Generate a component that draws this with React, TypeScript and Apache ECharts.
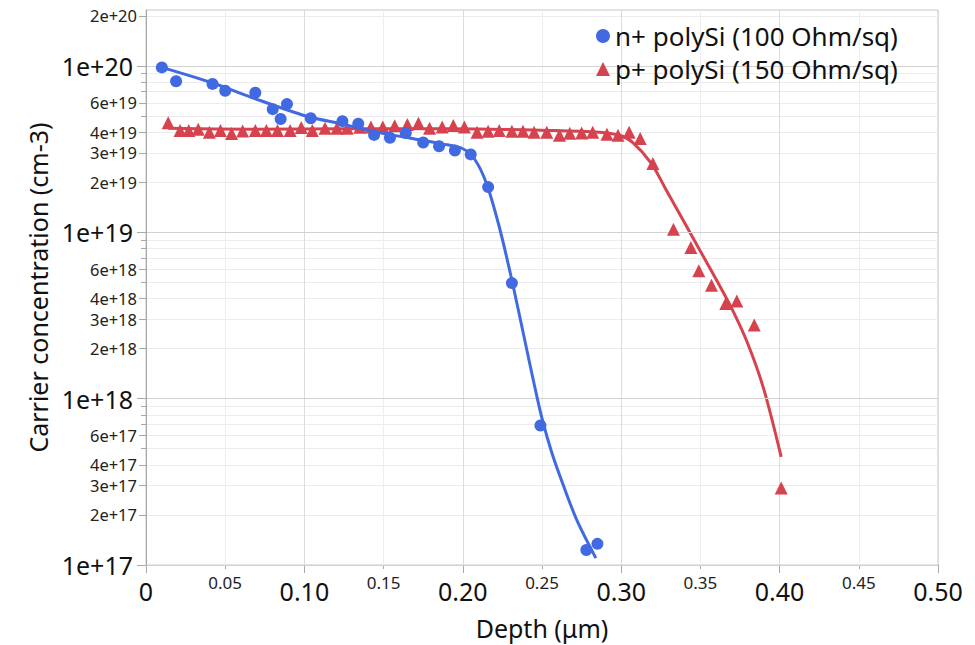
import React, { useEffect, useRef } from "react";
import * as echarts from "echarts";

// ---- data (depth in µm, concentration in cm-3) ----
const BLUE_NAME = "n+ polySi (100 Ohm/sq)";
const RED_NAME = "p+ polySi (150 Ohm/sq)";

const BLUE_X = [0.010, 0.019, 0.042, 0.050, 0.069, 0.080, 0.085, 0.089, 0.104, 0.124, 0.134, 0.144, 0.154, 0.164, 0.175, 0.185, 0.195, 0.205, 0.216, 0.231, 0.249, 0.278, 0.285];
const BLUE_Y = [9.8e19, 8.1e19, 7.8e19, 7.1e19, 6.9e19, 5.5e19, 4.8e19, 5.9e19, 4.85e19, 4.66e19, 4.5e19, 3.85e19, 3.7e19, 3.95e19, 3.47e19, 3.29e19, 3.1e19, 2.94e19, 1.87e19, 4.95e18, 6.9e17, 1.23e17, 1.34e17];

const RED_X = [0.014, 0.0215, 0.027, 0.033, 0.040, 0.047, 0.054, 0.061, 0.069, 0.076, 0.083, 0.091, 0.098, 0.105, 0.113, 0.1205, 0.127, 0.135, 0.142, 0.1495, 0.157, 0.165, 0.172, 0.179, 0.187, 0.194, 0.201, 0.209, 0.216, 0.223, 0.231, 0.238, 0.245, 0.253, 0.261, 0.2675, 0.275, 0.282, 0.291, 0.298, 0.305, 0.312, 0.320, 0.333, 0.344, 0.349, 0.357, 0.366, 0.373, 0.384, 0.401];
const RED_Y = [4.55e19, 4.1e19, 4.1e19, 4.17e19, 4.0e19, 4.1e19, 3.93e19, 4.06e19, 4.1e19, 4.1e19, 4.1e19, 4.1e19, 4.26e19, 4.1e19, 4.22e19, 4.22e19, 4.22e19, 4.28e19, 4.3e19, 4.3e19, 4.37e19, 4.45e19, 4.52e19, 4.22e19, 4.3e19, 4.38e19, 4.3e19, 4.0e19, 4.05e19, 4.1e19, 4.05e19, 4.05e19, 4.0e19, 4.0e19, 3.83e19, 3.94e19, 3.96e19, 4.0e19, 3.88e19, 3.83e19, 4.0e19, 3.67e19, 2.59e19, 1.045e19, 8.1e18, 5.87e18, 4.8e18, 3.73e18, 3.87e18, 2.77e18, 2.9e17];

const BLUE_FIT_X = [0.010, 0.042, 0.066, 0.101, 0.124, 0.146, 0.167, 0.187, 0.200, 0.2075, 0.215, 0.223, 0.231, 0.240, 0.245, 0.250, 0.256, 0.263, 0.272, 0.284];
const BLUE_FIT_Y = [9.8e19, 7.9e19, 6.5e19, 5.0e19, 4.47e19, 4.0e19, 3.68e19, 3.4e19, 3.18e19, 2.75e19, 1.96e19, 1.08e19, 5.15e18, 2.05e18, 1.23e18, 7.6e17, 4.8e17, 3.1e17, 1.86e17, 1.1e17];

const RED_FIT_X = [0.014, 0.066, 0.129, 0.192, 0.255, 0.286, 0.299, 0.307, 0.319, 0.3285, 0.340, 0.350, 0.360, 0.370, 0.380, 0.390, 0.401];
const RED_FIT_Y = [4.22e19, 4.17e19, 4.2e19, 4.2e19, 4.1e19, 4.0e19, 3.83e19, 3.49e19, 2.6e19, 1.79e19, 1.14e19, 7.7e18, 5.2e18, 3.45e18, 2.13e18, 1.14e18, 4.47e17];

// ---- ticks ----
const Y_MIN = 1e17;
const Y_MAX = 2.17e20;
const Y_MAJOR = [1e17, 1e18, 1e19, 1e20];
const Y_MINOR_LABELED = [2e17, 3e17, 4e17, 6e17, 2e18, 3e18, 4e18, 6e18, 2e19, 3e19, 4e19, 6e19, 2e20];
const Y_MINOR_PLAIN = [5e17, 7e17, 8e17, 9e17, 5e18, 7e18, 8e18, 9e18, 5e19, 7e19, 8e19, 9e19];

const X_MAJOR = [0, 0.1, 0.2, 0.3, 0.4, 0.5];
const X_MINOR = [0.05, 0.15, 0.25, 0.35, 0.45];

const BLUE = "#4169E1";
const RED = "#D6434F";
const FONT = "Noto Sans";

const lg = (v: number) => Math.log10(v);
const pairs = (xs: number[], ys: number[]) => xs.map((x, i) => [x, lg(ys[i])]);

const yFmt = (v: number) => {
  const e = Math.floor(v + 1e-6);
  const m = Math.round(Math.pow(10, v - e));
  return `${m}e+${e}`;
};

export default function App() {
  const ref = useRef<HTMLDivElement>(null);
  useEffect(() => {
    if (!ref.current) return;
    const chart = echarts.init(ref.current, undefined, { renderer: "svg" });
    const yBase = {
      type: "value" as const,
      min: lg(Y_MIN),
      max: lg(Y_MAX),
      position: "left" as const,
    };
    const xBase = {
      type: "value" as const,
      min: 0,
      max: 0.5,
      position: "bottom" as const,
    };
    chart.setOption({
      animation: false,
      backgroundColor: "#ffffff",
      textStyle: { fontFamily: FONT },
      grid: {
        left: 146,
        right: 37,
        top: 10,
        bottom: 80,
        show: true,
        borderColor: "#c8c8c8",
        borderWidth: 1,
        outerBoundsMode: "none",
      },
      legend: {
        orient: "vertical",
        left: 591,
        top: 18,
        itemWidth: 14,
        itemHeight: 14,
        itemGap: 7,
        textStyle: { fontSize: 26, color: "#111", fontFamily: FONT },
        data: [
          { name: BLUE_NAME, icon: "circle" },
          { name: RED_NAME, icon: "triangle" },
        ],
      },
      xAxis: [
        {
          ...xBase,
          name: "Depth (μm)",
          nameLocation: "middle",
          nameGap: 50,
          nameTextStyle: { fontSize: 25, color: "#111", fontFamily: FONT },
          axisLine: { show: true, lineStyle: { color: "#a8a8a8", width: 1 } },
          axisTick: { show: true, length: 8, customValues: X_MAJOR, lineStyle: { color: "#a8a8a8" } },
          axisLabel: {
            customValues: X_MAJOR,
            fontSize: 25,
            color: "#111",
            margin: 13,
            formatter: (v: number) => (Math.abs(v) < 1e-9 ? "0" : v.toFixed(2)),
          },
          splitLine: { show: true, lineStyle: { color: "#dcdcdc", width: 1 } },
        },
        {
          ...xBase,
          axisLine: { show: false },
          axisTick: { show: true, length: 4, customValues: X_MINOR, lineStyle: { color: "#a8a8a8" } },
          axisLabel: {
            customValues: X_MINOR,
            fontSize: 17,
            color: "#222",
            margin: 9,
            formatter: (v: number) => v.toFixed(2),
          },
          splitLine: { show: true, lineStyle: { color: "#eeeeee", width: 1 } },
        },
      ],
      yAxis: [
        {
          ...yBase,
          name: "Carrier concentration (cm-3)",
          nameLocation: "middle",
          nameGap: 92,
          nameTextStyle: { fontSize: 25, color: "#111", fontFamily: FONT },
          axisLine: { show: true, lineStyle: { color: "#a8a8a8", width: 1 } },
          axisTick: { show: true, length: 9, customValues: Y_MAJOR.map(lg), lineStyle: { color: "#a8a8a8" } },
          axisLabel: {
            customValues: Y_MAJOR.map(lg),
            fontSize: 25,
            color: "#111",
            margin: 13,
            formatter: yFmt,
          },
          splitLine: { show: true, lineStyle: { color: "#d2d2d2", width: 1 } },
          z: 3,
        },
        {
          ...yBase,
          axisLine: { show: false },
          axisTick: { show: true, length: 7, customValues: Y_MINOR_LABELED.map(lg), lineStyle: { color: "#a8a8a8" } },
          axisLabel: {
            customValues: Y_MINOR_LABELED.map(lg),
            fontSize: 16.5,
            lineHeight: 18,
            color: "#222",
            margin: 9,
            formatter: yFmt,
          },
          splitLine: { show: true, lineStyle: { color: "#ececec", width: 1 } },
        },
        {
          ...yBase,
          axisLine: { show: false },
          axisTick: { show: true, length: 5, customValues: Y_MINOR_PLAIN.map(lg), lineStyle: { color: "#a8a8a8" } },
          axisLabel: { show: false },
          splitLine: { show: true, lineStyle: { color: "#ececec", width: 1 } },
        },
      ],
      series: [
        {
          name: RED_NAME + " fit",
          type: "line",
          data: pairs(RED_FIT_X, RED_FIT_Y),
          smooth: 0.3,
          showSymbol: false,
          lineStyle: { color: RED, width: 3 },
          itemStyle: { color: RED },
          z: 2,
        },
        {
          name: RED_NAME,
          type: "scatter",
          data: pairs(RED_X, RED_Y),
          symbol: "triangle",
          symbolSize: 13,
          itemStyle: { color: RED, opacity: 1 },
          z: 3,
        },
        {
          name: BLUE_NAME + " fit",
          type: "line",
          data: pairs(BLUE_FIT_X, BLUE_FIT_Y),
          smooth: 0.3,
          showSymbol: false,
          lineStyle: { color: BLUE, width: 3 },
          itemStyle: { color: BLUE },
          z: 4,
        },
        {
          name: BLUE_NAME,
          type: "scatter",
          data: pairs(BLUE_X, BLUE_Y),
          symbol: "circle",
          symbolSize: 12,
          itemStyle: { color: BLUE, opacity: 1 },
          z: 5,
        },
      ],
    });
    return () => chart.dispose();
  }, []);
  return (
    <div
      ref={ref}
      style={{ position: "fixed", left: 0, top: 0, width: 975, height: 645, background: "#fff" }}
    />
  );
}
